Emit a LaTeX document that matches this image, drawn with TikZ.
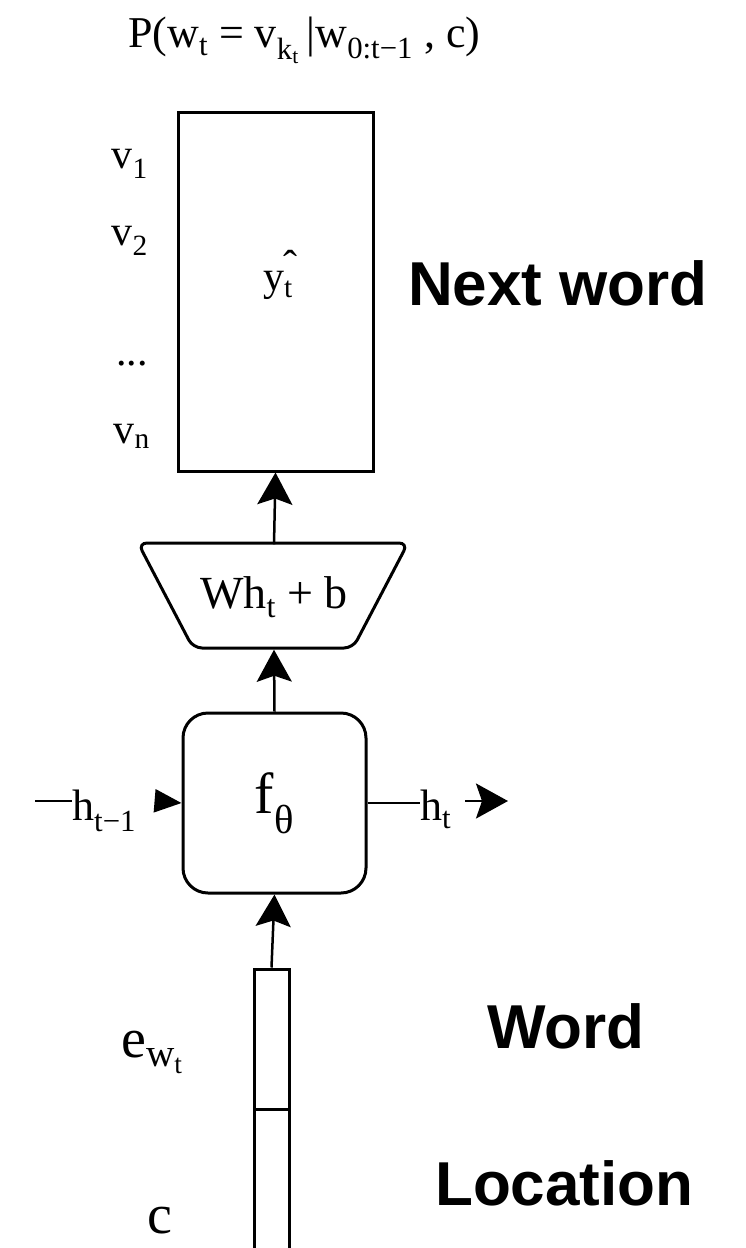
\documentclass[tikz,border=0pt]{standalone}
\usepackage{fontspec}
\setmainfont{Liberation Serif}
\newfontfamily\tagfont{Liberation Sans}
\usetikzlibrary{arrows.meta}

\begin{document}
\begin{tikzpicture}[x=1pt,y=-1pt,
  serif/.style={font=\fontsize{44}{50}\selectfont, inner sep=0pt},
  vocab/.style={font=\fontsize{42}{48}\selectfont, inner sep=0pt, anchor=base east},
  bigserif/.style={font=\fontsize{56}{62}\selectfont, inner sep=0pt},
  tag/.style={font=\tagfont\bfseries\fontsize{62}{70}\selectfont, inner sep=0pt, anchor=base west},
  boxed/.style={draw, line width=3pt, inner sep=0pt},
  flow/.style={line width=2.5pt, -{Stealth[length=32pt,width=35pt,inset=6pt]}},
  thin/.style={line width=2.5pt},
]
\clip (0,0) rectangle (745,1248);

% probability of the next word
\node[serif, anchor=base west] (prob) at (128,47)
  {P(w\textsubscript{t} = v\textsubscript{k\textsubscript{t}}\,|w\textsubscript{0:t−1} , c)};

% output distribution over the vocabulary
\node[boxed, minimum width=195pt, minimum height=359pt] (yhat) at (275.5,291.5) {};
\node[serif, font=\fontsize{42}{48}\selectfont, anchor=base] (yhatlbl) at (278,290)
  {y\textsubscript{t}\llap{\raisebox{0.24em}{ˆ}\kern-0.12em}};
\node[vocab] (v1) at (148,168) {v\textsubscript{1}};
\node[vocab] (v2) at (148,245) {v\textsubscript{2}};
\node[vocab] (vdots) at (148,365) {...};
\node[vocab] (vn) at (150,443) {v\textsubscript{n}};

% linear projection
\draw[line width=3pt, rounded corners=9pt]
  (138,543) -- (408,543) -- (353,648) -- (193,648) -- cycle;
\node[serif, font=\fontsize{46}{52}\selectfont, minimum width=160pt, minimum height=105pt]
  (proj) at (274,597) {Wh\textsubscript{t} + b};

% recurrent cell
\node[boxed, rounded corners=25pt, minimum width=183pt, minimum height=180pt,
      font=\fontsize{58}{64}\selectfont]
  (f) at (274.5,803) {f\textsubscript{θ}};

% hidden state in and out
\coordinate (hin) at (35,801);
\node[serif, anchor=base west] (hprev) at (72,820) {h\textsubscript{t−1}};
\coordinate (hprevtip) at (157,801);
\draw[thin] (hin) -- (hin -| hprev.west);
\draw[line width=2.5pt, -{Triangle[length=27pt,width=23pt]}] (hprevtip) -- (f.west);

\node[serif, anchor=base west] (hnext) at (420,820) {h\textsubscript{t}};
\coordinate (hout) at (465,801);
\coordinate (houtend) at (508,801);
\draw[thin] (f.east) -- (f.east -| hnext.west);
\draw[flow] (hout) -- (houtend);

% input vector: word embedding stacked on location
\node[boxed, minimum width=35pt, minimum height=140pt] (ew) at (271.5,1039) {};
\node[boxed, minimum width=35pt, minimum height=160pt] (cv) at (271.5,1189) {};
\node[bigserif, anchor=base west] (ewlbl) at (121,1057) {e\textsubscript{w\textsubscript{t}}};
\node[bigserif, anchor=base west] (clbl) at (147,1233) {c};

% data flow
\draw[flow] (proj.north) -- (yhat.south);
\draw[flow] (f.north) -- (proj.south);
\draw[flow] (ew.north) -- (f.south);

% annotations
\node[tag] (next) at (408,305) {Next word};
\node[tag] (word) at (487,1048) {Word};
\node[tag] (loc) at (435,1205) {Location};
\end{tikzpicture}
\end{document}
